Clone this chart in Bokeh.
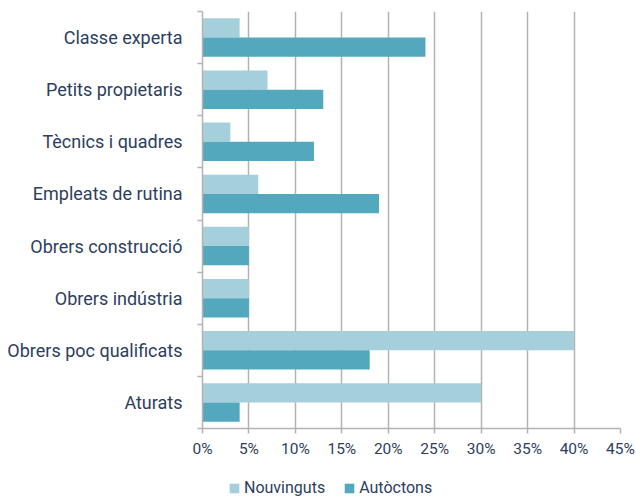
from bokeh.plotting import figure
from bokeh.layouts import column
from bokeh.models import FixedTicker, Range1d, Legend, LegendItem, ColumnDataSource, NumeralTickFormatter
from bokeh.embed import file_html
from bokeh.resources import INLINE

categories = ["Classe experta", "Petits propietaris", "Tècnics i quadres", "Empleats de rutina",
              "Obrers construcció", "Obrers indústria", "Obrers poc qualificats", "Aturats"]
nouvinguts = [4, 7, 3, 6, 5, 5, 40, 30]
autoctons = [24, 13, 12, 19, 5, 5, 18, 4]
x_ticks = [0, 5, 10, 15, 20, 25, 30, 35, 40, 45]
series_names = ["Nouvinguts", "Autòctons"]

TEXT = "#2C3E5E"
FONT = "Roboto"
LIGHT = "#A6CFDC"
DARK = "#54A8BE"
GRID = "#B3B3B3"

n = len(categories)
ypos = [n - 1 - i + 0.5 for i in range(n)]
bar_h = 0.37
off = 0.185

src = ColumnDataSource(dict(
    y_n=[y + off for y in ypos], y_a=[y - off for y in ypos],
    nv=[v / 100 for v in nouvinguts], av=[v / 100 for v in autoctons],
))

p = figure(width=636, height=462, output_backend="svg", toolbar_location=None,
           x_range=Range1d(0, x_ticks[-1] / 100), y_range=Range1d(0, n),
           min_border_left=202, min_border_right=16, min_border_top=11, min_border_bottom=34)
p.outline_line_color = None

p.hbar(y="y_n", right="nv", left=0, height=bar_h, source=src, fill_color=LIGHT, line_color=None)
p.hbar(y="y_a", right="av", left=0, height=bar_h, source=src, fill_color=DARK, line_color=None)

# x axis
xa = p.xaxis[0]
xa.ticker = FixedTicker(ticks=[t / 100 for t in x_ticks])
xa.formatter = NumeralTickFormatter(format="0%")
xa.axis_line_color = GRID
xa.axis_line_width = 1.5
xa.major_tick_line_color = GRID
xa.major_tick_line_width = 1.5
xa.major_tick_out = 5
xa.major_tick_in = 0
xa.minor_tick_line_color = None
xa.major_label_text_font = FONT
xa.major_label_text_font_size = "15.5px"
xa.major_label_text_color = TEXT
xa.major_label_standoff = 6

# y axis
ya = p.yaxis[0]
ya.ticker = FixedTicker(ticks=ypos, minor_ticks=list(range(n + 1)))
ya.major_label_overrides = {y: c for y, c in zip(ypos, categories)}
ya.major_tick_line_color = None
ya.minor_tick_line_color = GRID
ya.minor_tick_line_width = 1.5
ya.minor_tick_out = 5
ya.minor_tick_in = 0
ya.axis_line_color = GRID
ya.axis_line_width = 1.5
ya.major_label_text_font = FONT
ya.major_label_text_font_size = "18px"
ya.major_label_text_color = TEXT
ya.major_label_standoff = 14

p.xgrid.grid_line_color = GRID
p.xgrid.grid_line_width = 1.5
p.ygrid.grid_line_color = None

# legend strip (proxy glyphs with NaN coordinates: nothing drawn, legend swatches only)
nan = float("nan")
p2 = figure(width=636, height=35, output_backend="svg", toolbar_location=None,
            x_range=Range1d(0, 1), y_range=Range1d(0, 1),
            min_border_left=0, min_border_right=0, min_border_top=0, min_border_bottom=0)
p2.axis.visible = False
p2.grid.visible = False
p2.outline_line_color = None
lr1 = p2.quad(left=[nan], right=[nan], top=[nan], bottom=[nan], fill_color=LIGHT, line_color=None)
lr2 = p2.quad(left=[nan], right=[nan], top=[nan], bottom=[nan], fill_color=DARK, line_color=None)

legend = Legend(items=[LegendItem(label=series_names[0], renderers=[lr1]),
                       LegendItem(label=series_names[1], renderers=[lr2])],
                orientation="horizontal", location=(26, 0),
                label_text_font=FONT, label_text_font_size="16px", label_text_color=TEXT,
                glyph_width=12, glyph_height=12, spacing=18, label_standoff=4,
                border_line_color=None, background_fill_alpha=0, padding=0, margin=0)
p2.add_layout(legend, "center")

open("out.html", "w").write(file_html(column(p, p2, spacing=0), INLINE))
